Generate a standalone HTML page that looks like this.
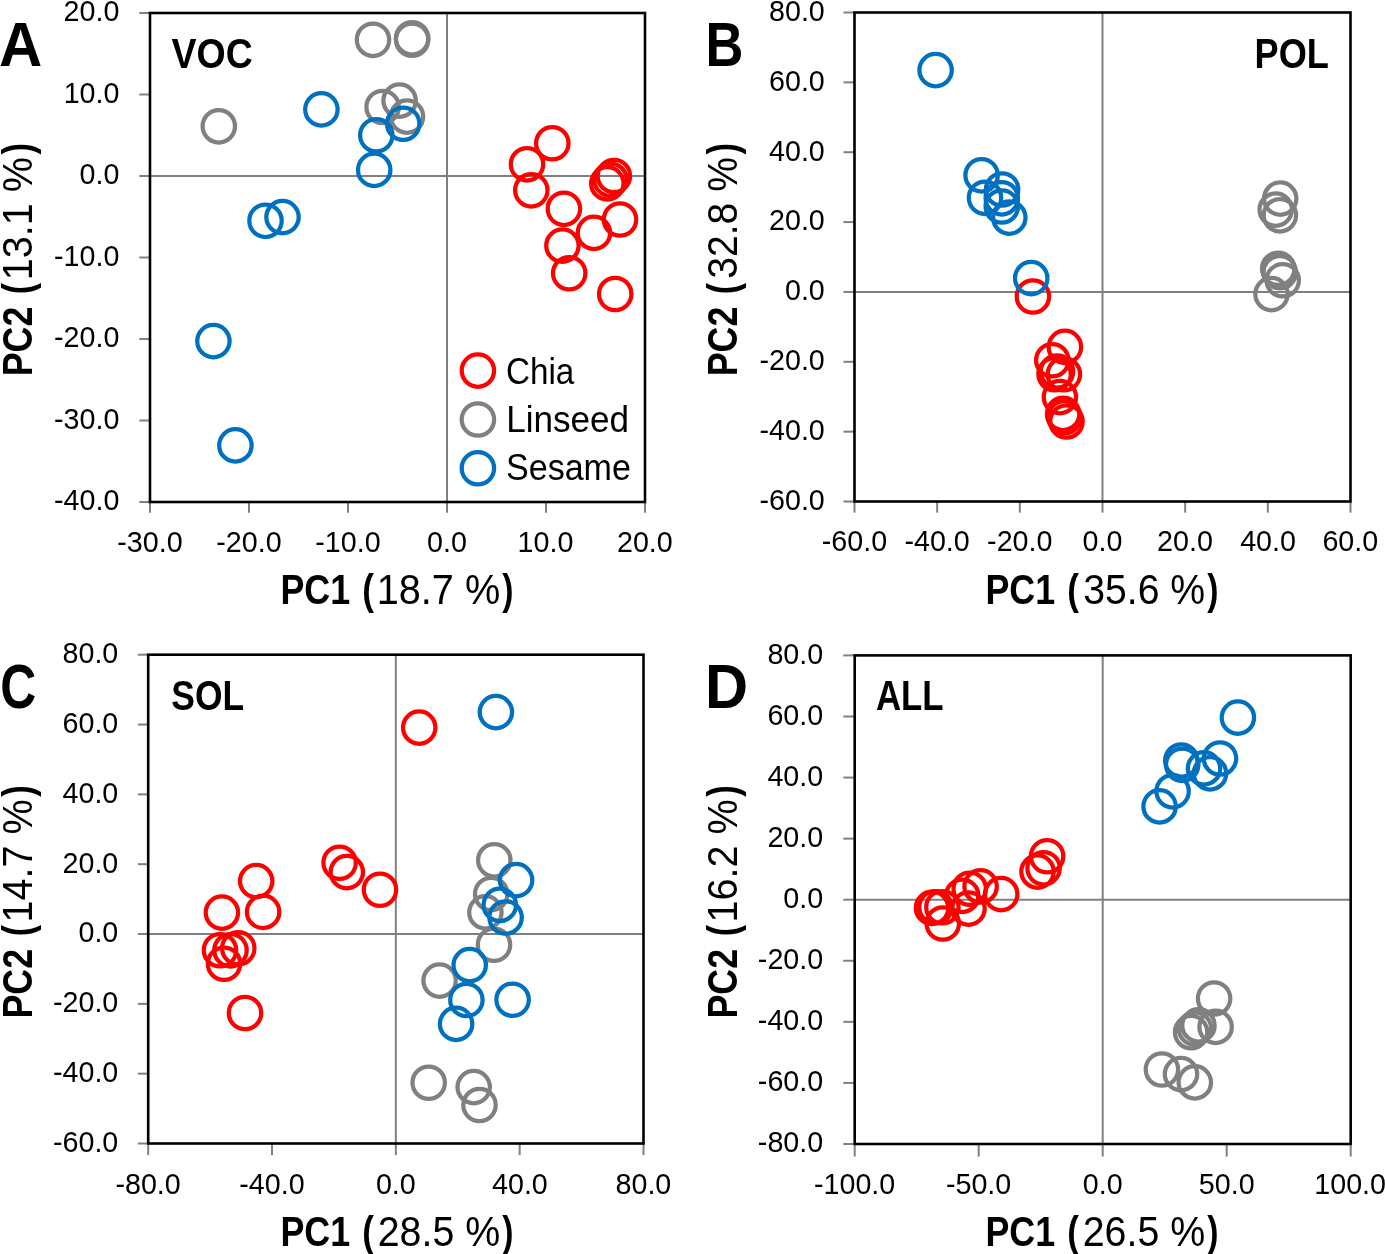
<!DOCTYPE html>
<html><head><meta charset="utf-8"><style>
html,body{margin:0;padding:0;background:#fff;overflow:hidden;width:1385px;height:1254px;}
svg{display:block;will-change:transform;}
text{font-family:"Liberation Sans",sans-serif;fill:#000;}
</style></head><body>
<svg width="1385" height="1254" viewBox="0 0 1385 1254">
<rect width="1385" height="1254" fill="#fff"/>
<line x1="150" y1="176" x2="645" y2="176" stroke="#808080" stroke-width="2"/>
<line x1="447" y1="13" x2="447" y2="502" stroke="#808080" stroke-width="2"/>
<line x1="139.3" y1="13" x2="150" y2="13" stroke="#808080" stroke-width="2"/>
<g transform="translate(65.06,21.42) scale(1.0000,1)" font-size="28.67"><text x="-1.44" y="0">20.0</text></g>
<line x1="139.3" y1="94.5" x2="150" y2="94.5" stroke="#808080" stroke-width="2"/>
<g transform="translate(65.8,102.92) scale(1.0000,1)" font-size="28.67"><text x="-2.18" y="0">10.0</text></g>
<line x1="139.3" y1="176" x2="150" y2="176" stroke="#808080" stroke-width="2"/>
<g transform="translate(80.68,184.42) scale(1.0000,1)" font-size="28.67"><text x="-1.12" y="0">0.0</text></g>
<line x1="139.3" y1="257.5" x2="150" y2="257.5" stroke="#808080" stroke-width="2"/>
<g transform="translate(55.34,265.92) scale(1.0000,1)" font-size="28.67"><text x="-1.27" y="0">-10.0</text></g>
<line x1="139.3" y1="339" x2="150" y2="339" stroke="#808080" stroke-width="2"/>
<g transform="translate(55.34,347.42) scale(1.0000,1)" font-size="28.67"><text x="-1.27" y="0">-20.0</text></g>
<line x1="139.3" y1="420.5" x2="150" y2="420.5" stroke="#808080" stroke-width="2"/>
<g transform="translate(55.34,428.92) scale(1.0000,1)" font-size="28.67"><text x="-1.27" y="0">-30.0</text></g>
<line x1="139.3" y1="502" x2="150" y2="502" stroke="#808080" stroke-width="2"/>
<g transform="translate(55.34,510.42) scale(1.0000,1)" font-size="28.67"><text x="-1.27" y="0">-40.0</text></g>
<line x1="150" y1="502" x2="150" y2="512.8" stroke="#808080" stroke-width="2"/>
<g transform="translate(118.52,551.82) scale(1.0000,1)" font-size="28.67"><text x="-1.27" y="0">-30.0</text></g>
<line x1="249" y1="502" x2="249" y2="512.8" stroke="#808080" stroke-width="2"/>
<g transform="translate(217.52,551.82) scale(1.0000,1)" font-size="28.67"><text x="-1.27" y="0">-20.0</text></g>
<line x1="348" y1="502" x2="348" y2="512.8" stroke="#808080" stroke-width="2"/>
<g transform="translate(316.52,551.82) scale(1.0000,1)" font-size="28.67"><text x="-1.27" y="0">-10.0</text></g>
<line x1="447" y1="502" x2="447" y2="512.8" stroke="#808080" stroke-width="2"/>
<g transform="translate(428.19,551.82) scale(1.0000,1)" font-size="28.67"><text x="-1.12" y="0">0.0</text></g>
<line x1="546" y1="502" x2="546" y2="512.8" stroke="#808080" stroke-width="2"/>
<g transform="translate(519.75,551.82) scale(1.0000,1)" font-size="28.67"><text x="-2.18" y="0">10.0</text></g>
<line x1="645" y1="502" x2="645" y2="512.8" stroke="#808080" stroke-width="2"/>
<g transform="translate(618.38,551.82) scale(1.0000,1)" font-size="28.67"><text x="-1.44" y="0">20.0</text></g>
<circle cx="552.3" cy="143.2" r="16.2" fill="none" stroke="#FF0000" stroke-width="4.25"/>
<circle cx="527" cy="164.3" r="16.2" fill="none" stroke="#FF0000" stroke-width="4.25"/>
<circle cx="531.3" cy="190.3" r="16.2" fill="none" stroke="#FF0000" stroke-width="4.25"/>
<circle cx="563.9" cy="208.8" r="16.2" fill="none" stroke="#FF0000" stroke-width="4.25"/>
<circle cx="562.4" cy="245.6" r="16.2" fill="none" stroke="#FF0000" stroke-width="4.25"/>
<circle cx="569.2" cy="273.2" r="16.2" fill="none" stroke="#FF0000" stroke-width="4.25"/>
<circle cx="593.9" cy="232.9" r="16.2" fill="none" stroke="#FF0000" stroke-width="4.25"/>
<circle cx="620" cy="219.5" r="16.2" fill="none" stroke="#FF0000" stroke-width="4.25"/>
<circle cx="615.2" cy="294" r="16.2" fill="none" stroke="#FF0000" stroke-width="4.25"/>
<circle cx="607.3" cy="183.4" r="16.2" fill="none" stroke="#FF0000" stroke-width="4.25"/>
<circle cx="610.5" cy="179.8" r="16.2" fill="none" stroke="#FF0000" stroke-width="4.25"/>
<circle cx="613.9" cy="176" r="16.2" fill="none" stroke="#FF0000" stroke-width="4.25"/>
<circle cx="218.8" cy="126.3" r="16.2" fill="none" stroke="#808080" stroke-width="4.25"/>
<circle cx="373" cy="39.8" r="16.2" fill="none" stroke="#808080" stroke-width="4.25"/>
<circle cx="412.1" cy="38.3" r="16.2" fill="none" stroke="#808080" stroke-width="4.25"/>
<circle cx="412.1" cy="39.7" r="16.2" fill="none" stroke="#808080" stroke-width="4.25"/>
<circle cx="382.6" cy="107" r="16.2" fill="none" stroke="#808080" stroke-width="4.25"/>
<circle cx="399.6" cy="100.6" r="16.2" fill="none" stroke="#808080" stroke-width="4.25"/>
<circle cx="407" cy="116.6" r="16.2" fill="none" stroke="#808080" stroke-width="4.25"/>
<circle cx="321.4" cy="109.4" r="16.2" fill="none" stroke="#0070C0" stroke-width="4.25"/>
<circle cx="376.3" cy="135.2" r="16.2" fill="none" stroke="#0070C0" stroke-width="4.25"/>
<circle cx="403.2" cy="123.7" r="16.2" fill="none" stroke="#0070C0" stroke-width="4.25"/>
<circle cx="374.2" cy="169.9" r="16.2" fill="none" stroke="#0070C0" stroke-width="4.25"/>
<circle cx="265.5" cy="220.8" r="16.2" fill="none" stroke="#0070C0" stroke-width="4.25"/>
<circle cx="282.5" cy="217.1" r="16.2" fill="none" stroke="#0070C0" stroke-width="4.25"/>
<circle cx="213.4" cy="341.1" r="16.2" fill="none" stroke="#0070C0" stroke-width="4.25"/>
<circle cx="235.4" cy="445.4" r="16.2" fill="none" stroke="#0070C0" stroke-width="4.25"/>
<rect x="150" y="13" width="495" height="489" fill="none" stroke="#000" stroke-width="2.6"/>
<line x1="854.5" y1="291.93" x2="1350.5" y2="291.93" stroke="#808080" stroke-width="2"/>
<line x1="1102.5" y1="12.5" x2="1102.5" y2="501.5" stroke="#808080" stroke-width="2"/>
<line x1="843.5" y1="12.5" x2="854.5" y2="12.5" stroke="#808080" stroke-width="2"/>
<g transform="translate(770.26,20.92) scale(1.0000,1)" font-size="28.67"><text x="-1.25" y="0">80.0</text></g>
<line x1="843.5" y1="82.36" x2="854.5" y2="82.36" stroke="#808080" stroke-width="2"/>
<g transform="translate(770.47,90.78) scale(1.0000,1)" font-size="28.67"><text x="-1.46" y="0">60.0</text></g>
<line x1="843.5" y1="152.21" x2="854.5" y2="152.21" stroke="#808080" stroke-width="2"/>
<g transform="translate(769.67,160.63) scale(1.0000,1)" font-size="28.67"><text x="-0.66" y="0">40.0</text></g>
<line x1="843.5" y1="222.07" x2="854.5" y2="222.07" stroke="#808080" stroke-width="2"/>
<g transform="translate(770.46,230.49) scale(1.0000,1)" font-size="28.67"><text x="-1.44" y="0">20.0</text></g>
<line x1="843.5" y1="291.93" x2="854.5" y2="291.93" stroke="#808080" stroke-width="2"/>
<g transform="translate(786.08,300.35) scale(1.0000,1)" font-size="28.67"><text x="-1.12" y="0">0.0</text></g>
<line x1="843.5" y1="361.79" x2="854.5" y2="361.79" stroke="#808080" stroke-width="2"/>
<g transform="translate(760.74,370.21) scale(1.0000,1)" font-size="28.67"><text x="-1.27" y="0">-20.0</text></g>
<line x1="843.5" y1="431.64" x2="854.5" y2="431.64" stroke="#808080" stroke-width="2"/>
<g transform="translate(760.74,440.06) scale(1.0000,1)" font-size="28.67"><text x="-1.27" y="0">-40.0</text></g>
<line x1="843.5" y1="501.5" x2="854.5" y2="501.5" stroke="#808080" stroke-width="2"/>
<g transform="translate(760.74,509.92) scale(1.0000,1)" font-size="28.67"><text x="-1.27" y="0">-60.0</text></g>
<line x1="854.5" y1="501.5" x2="854.5" y2="512.6" stroke="#808080" stroke-width="2"/>
<g transform="translate(823.02,551.12) scale(1.0000,1)" font-size="28.67"><text x="-1.27" y="0">-60.0</text></g>
<line x1="937.17" y1="501.5" x2="937.17" y2="512.6" stroke="#808080" stroke-width="2"/>
<g transform="translate(905.69,551.12) scale(1.0000,1)" font-size="28.67"><text x="-1.27" y="0">-40.0</text></g>
<line x1="1019.83" y1="501.5" x2="1019.83" y2="512.6" stroke="#808080" stroke-width="2"/>
<g transform="translate(988.35,551.12) scale(1.0000,1)" font-size="28.67"><text x="-1.27" y="0">-20.0</text></g>
<line x1="1102.5" y1="501.5" x2="1102.5" y2="512.6" stroke="#808080" stroke-width="2"/>
<g transform="translate(1083.69,551.12) scale(1.0000,1)" font-size="28.67"><text x="-1.12" y="0">0.0</text></g>
<line x1="1185.17" y1="501.5" x2="1185.17" y2="512.6" stroke="#808080" stroke-width="2"/>
<g transform="translate(1158.55,551.12) scale(1.0000,1)" font-size="28.67"><text x="-1.44" y="0">20.0</text></g>
<line x1="1267.83" y1="501.5" x2="1267.83" y2="512.6" stroke="#808080" stroke-width="2"/>
<g transform="translate(1240.82,551.12) scale(1.0000,1)" font-size="28.67"><text x="-0.66" y="0">40.0</text></g>
<line x1="1350.5" y1="501.5" x2="1350.5" y2="512.6" stroke="#808080" stroke-width="2"/>
<g transform="translate(1323.89,551.12) scale(1.0000,1)" font-size="28.67"><text x="-1.46" y="0">60.0</text></g>
<circle cx="1032.9" cy="296.5" r="16.2" fill="none" stroke="#FF0000" stroke-width="4.25"/>
<circle cx="1064.9" cy="346.9" r="16.2" fill="none" stroke="#FF0000" stroke-width="4.25"/>
<circle cx="1052.3" cy="360.3" r="16.2" fill="none" stroke="#FF0000" stroke-width="4.25"/>
<circle cx="1054.6" cy="374.3" r="16.2" fill="none" stroke="#FF0000" stroke-width="4.25"/>
<circle cx="1063.9" cy="374.3" r="16.2" fill="none" stroke="#FF0000" stroke-width="4.25"/>
<circle cx="1057" cy="371.5" r="16.2" fill="none" stroke="#FF0000" stroke-width="4.25"/>
<circle cx="1059.9" cy="397.1" r="16.2" fill="none" stroke="#FF0000" stroke-width="4.25"/>
<circle cx="1063.1" cy="413.9" r="16.2" fill="none" stroke="#FF0000" stroke-width="4.25"/>
<circle cx="1064.4" cy="417.3" r="16.2" fill="none" stroke="#FF0000" stroke-width="4.25"/>
<circle cx="1066.5" cy="421.5" r="16.2" fill="none" stroke="#FF0000" stroke-width="4.25"/>
<circle cx="1280.2" cy="198.6" r="16.2" fill="none" stroke="#808080" stroke-width="4.25"/>
<circle cx="1275.7" cy="209.6" r="16.2" fill="none" stroke="#808080" stroke-width="4.25"/>
<circle cx="1279.9" cy="215.3" r="16.2" fill="none" stroke="#808080" stroke-width="4.25"/>
<circle cx="1278.2" cy="268.7" r="16.2" fill="none" stroke="#808080" stroke-width="4.25"/>
<circle cx="1279.8" cy="272.2" r="16.2" fill="none" stroke="#808080" stroke-width="4.25"/>
<circle cx="1282.7" cy="280.2" r="16.2" fill="none" stroke="#808080" stroke-width="4.25"/>
<circle cx="1271.5" cy="294.1" r="16.2" fill="none" stroke="#808080" stroke-width="4.25"/>
<circle cx="935.6" cy="70.1" r="16.2" fill="none" stroke="#0070C0" stroke-width="4.25"/>
<circle cx="981.6" cy="175.3" r="16.2" fill="none" stroke="#0070C0" stroke-width="4.25"/>
<circle cx="985" cy="197.8" r="16.2" fill="none" stroke="#0070C0" stroke-width="4.25"/>
<circle cx="1002.1" cy="189.5" r="16.2" fill="none" stroke="#0070C0" stroke-width="4.25"/>
<circle cx="1001.8" cy="198.3" r="16.2" fill="none" stroke="#0070C0" stroke-width="4.25"/>
<circle cx="1001.8" cy="206.5" r="16.2" fill="none" stroke="#0070C0" stroke-width="4.25"/>
<circle cx="1009.3" cy="217.6" r="16.2" fill="none" stroke="#0070C0" stroke-width="4.25"/>
<circle cx="1031.2" cy="278.1" r="16.2" fill="none" stroke="#0070C0" stroke-width="4.25"/>
<rect x="854.5" y="12.5" width="496" height="489" fill="none" stroke="#000" stroke-width="2.6"/>
<line x1="148.2" y1="934.01" x2="643.5" y2="934.01" stroke="#808080" stroke-width="2"/>
<line x1="395.85" y1="654.7" x2="395.85" y2="1143.5" stroke="#808080" stroke-width="2"/>
<line x1="137.9" y1="654.7" x2="148.2" y2="654.7" stroke="#808080" stroke-width="2"/>
<g transform="translate(63.76,663.12) scale(1.0000,1)" font-size="28.67"><text x="-1.25" y="0">80.0</text></g>
<line x1="137.9" y1="724.53" x2="148.2" y2="724.53" stroke="#808080" stroke-width="2"/>
<g transform="translate(63.97,732.95) scale(1.0000,1)" font-size="28.67"><text x="-1.46" y="0">60.0</text></g>
<line x1="137.9" y1="794.36" x2="148.2" y2="794.36" stroke="#808080" stroke-width="2"/>
<g transform="translate(63.17,802.78) scale(1.0000,1)" font-size="28.67"><text x="-0.66" y="0">40.0</text></g>
<line x1="137.9" y1="864.19" x2="148.2" y2="864.19" stroke="#808080" stroke-width="2"/>
<g transform="translate(63.96,872.61) scale(1.0000,1)" font-size="28.67"><text x="-1.44" y="0">20.0</text></g>
<line x1="137.9" y1="934.01" x2="148.2" y2="934.01" stroke="#808080" stroke-width="2"/>
<g transform="translate(79.58,942.43) scale(1.0000,1)" font-size="28.67"><text x="-1.12" y="0">0.0</text></g>
<line x1="137.9" y1="1003.84" x2="148.2" y2="1003.84" stroke="#808080" stroke-width="2"/>
<g transform="translate(54.24,1012.26) scale(1.0000,1)" font-size="28.67"><text x="-1.27" y="0">-20.0</text></g>
<line x1="137.9" y1="1073.67" x2="148.2" y2="1073.67" stroke="#808080" stroke-width="2"/>
<g transform="translate(54.24,1082.09) scale(1.0000,1)" font-size="28.67"><text x="-1.27" y="0">-40.0</text></g>
<line x1="137.9" y1="1143.5" x2="148.2" y2="1143.5" stroke="#808080" stroke-width="2"/>
<g transform="translate(54.24,1151.92) scale(1.0000,1)" font-size="28.67"><text x="-1.27" y="0">-60.0</text></g>
<line x1="148.2" y1="1143.5" x2="148.2" y2="1155.1" stroke="#808080" stroke-width="2"/>
<g transform="translate(116.72,1193.92) scale(1.0000,1)" font-size="28.67"><text x="-1.27" y="0">-80.0</text></g>
<line x1="272.02" y1="1143.5" x2="272.02" y2="1155.1" stroke="#808080" stroke-width="2"/>
<g transform="translate(240.55,1193.92) scale(1.0000,1)" font-size="28.67"><text x="-1.27" y="0">-40.0</text></g>
<line x1="395.85" y1="1143.5" x2="395.85" y2="1155.1" stroke="#808080" stroke-width="2"/>
<g transform="translate(377.04,1193.92) scale(1.0000,1)" font-size="28.67"><text x="-1.12" y="0">0.0</text></g>
<line x1="519.67" y1="1143.5" x2="519.67" y2="1155.1" stroke="#808080" stroke-width="2"/>
<g transform="translate(492.66,1193.92) scale(1.0000,1)" font-size="28.67"><text x="-0.66" y="0">40.0</text></g>
<line x1="643.5" y1="1143.5" x2="643.5" y2="1155.1" stroke="#808080" stroke-width="2"/>
<g transform="translate(616.78,1193.92) scale(1.0000,1)" font-size="28.67"><text x="-1.25" y="0">80.0</text></g>
<circle cx="256.2" cy="881.1" r="16.2" fill="none" stroke="#FF0000" stroke-width="4.25"/>
<circle cx="221.9" cy="912.6" r="16.2" fill="none" stroke="#FF0000" stroke-width="4.25"/>
<circle cx="263.1" cy="911.9" r="16.2" fill="none" stroke="#FF0000" stroke-width="4.25"/>
<circle cx="339.6" cy="862.7" r="16.2" fill="none" stroke="#FF0000" stroke-width="4.25"/>
<circle cx="346.8" cy="872.1" r="16.2" fill="none" stroke="#FF0000" stroke-width="4.25"/>
<circle cx="380" cy="889.7" r="16.2" fill="none" stroke="#FF0000" stroke-width="4.25"/>
<circle cx="245" cy="1013" r="16.2" fill="none" stroke="#FF0000" stroke-width="4.25"/>
<circle cx="419.2" cy="727.6" r="16.2" fill="none" stroke="#FF0000" stroke-width="4.25"/>
<circle cx="220" cy="950.2" r="16.2" fill="none" stroke="#FF0000" stroke-width="4.25"/>
<circle cx="238.3" cy="948.2" r="16.2" fill="none" stroke="#FF0000" stroke-width="4.25"/>
<circle cx="224" cy="963.7" r="16.2" fill="none" stroke="#FF0000" stroke-width="4.25"/>
<circle cx="230.5" cy="950.3" r="16.2" fill="none" stroke="#FF0000" stroke-width="4.25"/>
<circle cx="494.3" cy="860.3" r="16.2" fill="none" stroke="#808080" stroke-width="4.25"/>
<circle cx="491.2" cy="894" r="16.2" fill="none" stroke="#808080" stroke-width="4.25"/>
<circle cx="485.4" cy="912.4" r="16.2" fill="none" stroke="#808080" stroke-width="4.25"/>
<circle cx="494" cy="944.7" r="16.2" fill="none" stroke="#808080" stroke-width="4.25"/>
<circle cx="439.6" cy="980.6" r="16.2" fill="none" stroke="#808080" stroke-width="4.25"/>
<circle cx="428.7" cy="1082.7" r="16.2" fill="none" stroke="#808080" stroke-width="4.25"/>
<circle cx="473.7" cy="1087.1" r="16.2" fill="none" stroke="#808080" stroke-width="4.25"/>
<circle cx="479.5" cy="1105" r="16.2" fill="none" stroke="#808080" stroke-width="4.25"/>
<circle cx="495.9" cy="712.1" r="16.2" fill="none" stroke="#0070C0" stroke-width="4.25"/>
<circle cx="516.1" cy="880.1" r="16.2" fill="none" stroke="#0070C0" stroke-width="4.25"/>
<circle cx="499.8" cy="904.9" r="16.2" fill="none" stroke="#0070C0" stroke-width="4.25"/>
<circle cx="505.6" cy="917.5" r="16.2" fill="none" stroke="#0070C0" stroke-width="4.25"/>
<circle cx="469.7" cy="965.1" r="16.2" fill="none" stroke="#0070C0" stroke-width="4.25"/>
<circle cx="466.4" cy="1000" r="16.2" fill="none" stroke="#0070C0" stroke-width="4.25"/>
<circle cx="456.1" cy="1023.9" r="16.2" fill="none" stroke="#0070C0" stroke-width="4.25"/>
<circle cx="512.6" cy="999.7" r="16.2" fill="none" stroke="#0070C0" stroke-width="4.25"/>
<rect x="148.2" y="654.7" width="495.3" height="488.8" fill="none" stroke="#000" stroke-width="2.6"/>
<line x1="854.7" y1="899.7" x2="1350.7" y2="899.7" stroke="#808080" stroke-width="2"/>
<line x1="1102.7" y1="655.4" x2="1102.7" y2="1144" stroke="#808080" stroke-width="2"/>
<line x1="843.3" y1="655.4" x2="854.7" y2="655.4" stroke="#808080" stroke-width="2"/>
<g transform="translate(768.66,663.82) scale(1.0000,1)" font-size="28.67"><text x="-1.25" y="0">80.0</text></g>
<line x1="843.3" y1="716.48" x2="854.7" y2="716.48" stroke="#808080" stroke-width="2"/>
<g transform="translate(768.87,724.9) scale(1.0000,1)" font-size="28.67"><text x="-1.46" y="0">60.0</text></g>
<line x1="843.3" y1="777.55" x2="854.7" y2="777.55" stroke="#808080" stroke-width="2"/>
<g transform="translate(768.07,785.97) scale(1.0000,1)" font-size="28.67"><text x="-0.66" y="0">40.0</text></g>
<line x1="843.3" y1="838.62" x2="854.7" y2="838.62" stroke="#808080" stroke-width="2"/>
<g transform="translate(768.86,847.05) scale(1.0000,1)" font-size="28.67"><text x="-1.44" y="0">20.0</text></g>
<line x1="843.3" y1="899.7" x2="854.7" y2="899.7" stroke="#808080" stroke-width="2"/>
<g transform="translate(784.48,908.12) scale(1.0000,1)" font-size="28.67"><text x="-1.12" y="0">0.0</text></g>
<line x1="843.3" y1="960.77" x2="854.7" y2="960.77" stroke="#808080" stroke-width="2"/>
<g transform="translate(759.14,969.2) scale(1.0000,1)" font-size="28.67"><text x="-1.27" y="0">-20.0</text></g>
<line x1="843.3" y1="1021.85" x2="854.7" y2="1021.85" stroke="#808080" stroke-width="2"/>
<g transform="translate(759.14,1030.27) scale(1.0000,1)" font-size="28.67"><text x="-1.27" y="0">-40.0</text></g>
<line x1="843.3" y1="1082.92" x2="854.7" y2="1082.92" stroke="#808080" stroke-width="2"/>
<g transform="translate(759.14,1091.35) scale(1.0000,1)" font-size="28.67"><text x="-1.27" y="0">-60.0</text></g>
<line x1="843.3" y1="1144" x2="854.7" y2="1144" stroke="#808080" stroke-width="2"/>
<g transform="translate(759.14,1152.42) scale(1.0000,1)" font-size="28.67"><text x="-1.27" y="0">-80.0</text></g>
<line x1="854.7" y1="1144" x2="854.7" y2="1156.5" stroke="#808080" stroke-width="2"/>
<g transform="translate(815.25,1194.32) scale(1.0000,1)" font-size="28.67"><text x="-1.27" y="0">-100.0</text></g>
<line x1="978.7" y1="1144" x2="978.7" y2="1156.5" stroke="#808080" stroke-width="2"/>
<g transform="translate(947.22,1194.32) scale(1.0000,1)" font-size="28.67"><text x="-1.27" y="0">-50.0</text></g>
<line x1="1102.7" y1="1144" x2="1102.7" y2="1156.5" stroke="#808080" stroke-width="2"/>
<g transform="translate(1083.89,1194.32) scale(1.0000,1)" font-size="28.67"><text x="-1.12" y="0">0.0</text></g>
<line x1="1226.7" y1="1144" x2="1226.7" y2="1156.5" stroke="#808080" stroke-width="2"/>
<g transform="translate(1199.93,1194.32) scale(1.0000,1)" font-size="28.67"><text x="-1.15" y="0">50.0</text></g>
<line x1="1350.7" y1="1144" x2="1350.7" y2="1156.5" stroke="#808080" stroke-width="2"/>
<g transform="translate(1316.48,1194.32) scale(1.0000,1)" font-size="28.67"><text x="-2.18" y="0">100.0</text></g>
<circle cx="932" cy="907.9" r="16.2" fill="none" stroke="#FF0000" stroke-width="4.25"/>
<circle cx="935.5" cy="907.2" r="16.2" fill="none" stroke="#FF0000" stroke-width="4.25"/>
<circle cx="942.4" cy="907.2" r="16.2" fill="none" stroke="#FF0000" stroke-width="4.25"/>
<circle cx="942.8" cy="923.5" r="16.2" fill="none" stroke="#FF0000" stroke-width="4.25"/>
<circle cx="968.5" cy="908.6" r="16.2" fill="none" stroke="#FF0000" stroke-width="4.25"/>
<circle cx="962.2" cy="895.8" r="16.2" fill="none" stroke="#FF0000" stroke-width="4.25"/>
<circle cx="969.7" cy="888.7" r="16.2" fill="none" stroke="#FF0000" stroke-width="4.25"/>
<circle cx="980.6" cy="886.4" r="16.2" fill="none" stroke="#FF0000" stroke-width="4.25"/>
<circle cx="1001.2" cy="894.1" r="16.2" fill="none" stroke="#FF0000" stroke-width="4.25"/>
<circle cx="1047.1" cy="856.2" r="16.2" fill="none" stroke="#FF0000" stroke-width="4.25"/>
<circle cx="1037.5" cy="871.6" r="16.2" fill="none" stroke="#FF0000" stroke-width="4.25"/>
<circle cx="1043.6" cy="868.3" r="16.2" fill="none" stroke="#FF0000" stroke-width="4.25"/>
<circle cx="1214.1" cy="998.5" r="16.2" fill="none" stroke="#808080" stroke-width="4.25"/>
<circle cx="1215.6" cy="1026.9" r="16.2" fill="none" stroke="#808080" stroke-width="4.25"/>
<circle cx="1191.1" cy="1032.2" r="16.2" fill="none" stroke="#808080" stroke-width="4.25"/>
<circle cx="1198.5" cy="1025.4" r="16.2" fill="none" stroke="#808080" stroke-width="4.25"/>
<circle cx="1194.9" cy="1028.5" r="16.2" fill="none" stroke="#808080" stroke-width="4.25"/>
<circle cx="1161.9" cy="1069.5" r="16.2" fill="none" stroke="#808080" stroke-width="4.25"/>
<circle cx="1181" cy="1074.1" r="16.2" fill="none" stroke="#808080" stroke-width="4.25"/>
<circle cx="1194.8" cy="1082.4" r="16.2" fill="none" stroke="#808080" stroke-width="4.25"/>
<circle cx="1237.9" cy="717.6" r="16.2" fill="none" stroke="#0070C0" stroke-width="4.25"/>
<circle cx="1159.6" cy="806.4" r="16.2" fill="none" stroke="#0070C0" stroke-width="4.25"/>
<circle cx="1172.6" cy="791.3" r="16.2" fill="none" stroke="#0070C0" stroke-width="4.25"/>
<circle cx="1181.3" cy="760.5" r="16.2" fill="none" stroke="#0070C0" stroke-width="4.25"/>
<circle cx="1182.2" cy="764.8" r="16.2" fill="none" stroke="#0070C0" stroke-width="4.25"/>
<circle cx="1204" cy="768.4" r="16.2" fill="none" stroke="#0070C0" stroke-width="4.25"/>
<circle cx="1220" cy="758.5" r="16.2" fill="none" stroke="#0070C0" stroke-width="4.25"/>
<circle cx="1210" cy="773.4" r="16.2" fill="none" stroke="#0070C0" stroke-width="4.25"/>
<rect x="854.7" y="655.4" width="496" height="488.6" fill="none" stroke="#000" stroke-width="2.6"/>
<circle cx="477.9" cy="370.6" r="16.2" fill="none" stroke="#FF0000" stroke-width="4.25"/>
<circle cx="477.9" cy="419.5" r="16.2" fill="none" stroke="#808080" stroke-width="4.25"/>
<circle cx="477.9" cy="468.3" r="16.2" fill="none" stroke="#0070C0" stroke-width="4.25"/>
<g transform="translate(507.6,383.5) scale(0.9007,1)" font-size="36.92"><text x="-1.87" y="0" font-weight="normal">Chia</text></g>
<g transform="translate(509.1,431.7) scale(0.9506,1)" font-size="36.92"><text x="-3.03" y="0" font-weight="normal">Linseed</text></g>
<g transform="translate(507.5,479.5) scale(0.9234,1)" font-size="36.92"><text x="-1.68" y="0" font-weight="normal">Sesame</text></g>
<g transform="translate(0.5,66) scale(0.9477,1)" font-size="63.23"><text x="-1.57" y="0" font-weight="bold">A</text></g>
<g transform="translate(708.9,65.96) scale(0.8376,1)" font-size="62.65"><text x="-4.19" y="0" font-weight="bold">B</text></g>
<g transform="translate(2.2,708.3) scale(0.7898,1)" font-size="62.94"><text x="-2.58" y="0" font-weight="bold">C</text></g>
<g transform="translate(708.9,708.1) scale(0.9482,1)" font-size="62.94"><text x="-4.21" y="0" font-weight="bold">D</text></g>
<g transform="translate(171.75,67.9) scale(0.8832,1)" font-size="42.44"><text x="-0.29" y="0" font-weight="bold">VOC</text></g>
<g transform="translate(1256.9,67.7) scale(0.8650,1)" font-size="41.86"><text x="-2.8" y="0" font-weight="bold">POL</text></g>
<g transform="translate(172.3,709.9) scale(0.8403,1)" font-size="42.15"><text x="-1.21" y="0" font-weight="bold">SOL</text></g>
<g transform="translate(876.75,709.9) scale(0.8248,1)" font-size="42.15"><text x="-1.05" y="0" font-weight="bold">ALL</text></g>
<g transform="translate(282.8,603.8) scale(0.8542,1)" font-size="42.01"><text x="-2.81" y="0" font-weight="bold">PC1</text></g>
<g transform="translate(364.1,603.8) scale(0.8351,1)" font-size="42.01"><text x="-2.09" y="0" font-weight="bold">(</text></g>
<g transform="translate(379.7,603.8) scale(0.9446,1)" font-size="42.01"><text x="-3.2" y="0" font-weight="normal">18.7 %</text></g>
<g transform="translate(502.3,603.8) scale(0.8013,1)" font-size="42.01"><text x="-0.04" y="0" font-weight="bold">)</text></g>
<g transform="translate(987.8,603.8) scale(0.8542,1)" font-size="42.01"><text x="-2.81" y="0" font-weight="bold">PC1</text></g>
<g transform="translate(1069.1,603.8) scale(0.8351,1)" font-size="42.01"><text x="-2.09" y="0" font-weight="bold">(</text></g>
<g transform="translate(1084.7,603.8) scale(0.9328,1)" font-size="42.01"><text x="-1.6" y="0" font-weight="normal">35.6 %</text></g>
<g transform="translate(1207.3,603.8) scale(0.8013,1)" font-size="42.01"><text x="-0.04" y="0" font-weight="bold">)</text></g>
<g transform="translate(282.8,1245.8) scale(0.8542,1)" font-size="42.01"><text x="-2.81" y="0" font-weight="bold">PC1</text></g>
<g transform="translate(364.1,1245.8) scale(0.8351,1)" font-size="42.01"><text x="-2.09" y="0" font-weight="bold">(</text></g>
<g transform="translate(379.7,1245.8) scale(0.9366,1)" font-size="42.01"><text x="-2.11" y="0" font-weight="normal">28.5 %</text></g>
<g transform="translate(502.3,1245.8) scale(0.8013,1)" font-size="42.01"><text x="-0.04" y="0" font-weight="bold">)</text></g>
<g transform="translate(987.8,1245.8) scale(0.8542,1)" font-size="42.01"><text x="-2.81" y="0" font-weight="bold">PC1</text></g>
<g transform="translate(1069.1,1245.8) scale(0.8351,1)" font-size="42.01"><text x="-2.09" y="0" font-weight="bold">(</text></g>
<g transform="translate(1084.7,1245.8) scale(0.9366,1)" font-size="42.01"><text x="-2.11" y="0" font-weight="normal">26.5 %</text></g>
<g transform="translate(1207.3,1245.8) scale(0.8013,1)" font-size="42.01"><text x="-0.04" y="0" font-weight="bold">)</text></g>
<g transform="translate(32.4,373.9) rotate(-90) scale(0.8491,1)" font-size="42.15"><text x="-2.82" y="0" font-weight="bold">PC2</text></g>
<g transform="translate(32.4,292.5) rotate(-90) scale(0.7986,1)" font-size="42.15"><text x="-2.1" y="0" font-weight="bold">(</text></g>
<g transform="translate(32.4,277.2) rotate(-90) scale(0.9382,1)" font-size="42.15"><text x="-3.21" y="0" font-weight="normal">13.1 %</text></g>
<g transform="translate(32.4,154.5) rotate(-90) scale(0.8238,1)" font-size="42.15"><text x="-0.04" y="0" font-weight="bold">)</text></g>
<g transform="translate(737.1,373.9) rotate(-90) scale(0.8491,1)" font-size="42.15"><text x="-2.82" y="0" font-weight="bold">PC2</text></g>
<g transform="translate(737.1,292.5) rotate(-90) scale(0.7986,1)" font-size="42.15"><text x="-2.1" y="0" font-weight="bold">(</text></g>
<g transform="translate(737.1,277.2) rotate(-90) scale(0.9265,1)" font-size="42.15"><text x="-1.61" y="0" font-weight="normal">32.8 %</text></g>
<g transform="translate(737.1,154.5) rotate(-90) scale(0.8238,1)" font-size="42.15"><text x="-0.04" y="0" font-weight="bold">)</text></g>
<g transform="translate(32.4,1016.1) rotate(-90) scale(0.8491,1)" font-size="42.15"><text x="-2.82" y="0" font-weight="bold">PC2</text></g>
<g transform="translate(32.4,934.7) rotate(-90) scale(0.7986,1)" font-size="42.15"><text x="-2.1" y="0" font-weight="bold">(</text></g>
<g transform="translate(32.4,919.4) rotate(-90) scale(0.9382,1)" font-size="42.15"><text x="-3.21" y="0" font-weight="normal">14.7 %</text></g>
<g transform="translate(32.4,796.7) rotate(-90) scale(0.8238,1)" font-size="42.15"><text x="-0.04" y="0" font-weight="bold">)</text></g>
<g transform="translate(737.1,1016.1) rotate(-90) scale(0.8491,1)" font-size="42.15"><text x="-2.82" y="0" font-weight="bold">PC2</text></g>
<g transform="translate(737.1,934.7) rotate(-90) scale(0.7986,1)" font-size="42.15"><text x="-2.1" y="0" font-weight="bold">(</text></g>
<g transform="translate(737.1,919.4) rotate(-90) scale(0.9382,1)" font-size="42.15"><text x="-3.21" y="0" font-weight="normal">16.2 %</text></g>
<g transform="translate(737.1,796.7) rotate(-90) scale(0.8238,1)" font-size="42.15"><text x="-0.04" y="0" font-weight="bold">)</text></g>
</svg>
</body></html>
